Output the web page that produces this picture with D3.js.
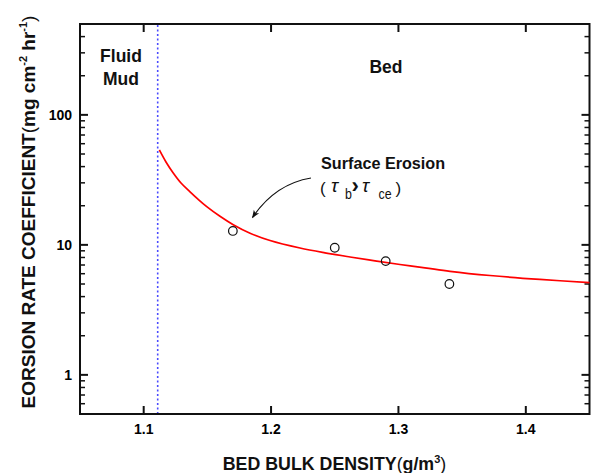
<!DOCTYPE html>
<html>
<head>
<meta charset="utf-8">
<script src="https://cdn.jsdelivr.net/npm/d3@7"></script>
<style>
  html, body { margin: 0; padding: 0; background: #fff; }
  svg { display: block; font-family: "Liberation Sans", Arial, sans-serif; }
</style>
</head>
<body>
<svg id="chart" width="591" height="473"></svg>
<script>
// ---- data ----
const densityTicks = [1.1, 1.2, 1.3, 1.4];
const rateTickLabels = [1, 10, 100];
const fluidMudBoundary = [1.111];

// fitted erosion-rate curve
const curveDensity = [1.1123, 1.1175, 1.1232, 1.1293, 1.1364, 1.1426, 1.1495, 1.1599, 1.1703, 1.1835, 1.1992, 1.2227, 1.2423, 1.262, 1.2816, 1.3012, 1.3208, 1.3405, 1.3719, 1.4111, 1.45];
const curveRate    = [53.7, 43.4, 35.7, 29.9, 25.6, 22.5, 19.7, 16.6, 14.3, 12.3, 10.8, 9.46, 8.69, 8.07, 7.53, 7.06, 6.66, 6.26, 5.81, 5.42, 5.13];

// measured points
const obsDensity = [1.17, 1.25, 1.29, 1.34];
const obsRate    = [12.8, 9.5, 7.5, 5.0];

// ---- layout ----
const svg = d3.select("#chart");
const L = 80, R = 589.5, T = 24, B = 414;

const x = d3.scaleLinear().domain([1.05, 1.45]).range([L, R]);
const y = d3.scaleLog().domain([0.5, 500]).range([B, T]);

const minorTicks = [];
[0.1, 1, 10, 100].forEach(d => { for (let k = 2; k <= 9; k++) { const v = d * k; if (v >= 0.5 && v <= 500 && !(d === 0.1 && k < 5)) minorTicks.push(v); } });

// ticks (inward) all sides
const tickG = svg.append("g").attr("stroke", "#111");
rateTickLabels.forEach(v => {
  tickG.append("line").attr("x1", L).attr("x2", L + 8).attr("y1", y(v)).attr("y2", y(v)).attr("stroke-width", 2);
  tickG.append("line").attr("x1", R).attr("x2", R - 8).attr("y1", y(v)).attr("y2", y(v)).attr("stroke-width", 2);
});
minorTicks.forEach(v => {
  tickG.append("line").attr("x1", L).attr("x2", L + 5).attr("y1", y(v)).attr("y2", y(v)).attr("stroke-width", 1.5);
  tickG.append("line").attr("x1", R).attr("x2", R - 5).attr("y1", y(v)).attr("y2", y(v)).attr("stroke-width", 1.5);
});
densityTicks.forEach(v => {
  tickG.append("line").attr("x1", x(v)).attr("x2", x(v)).attr("y1", B).attr("y2", B - 8).attr("stroke-width", 2);
  tickG.append("line").attr("x1", x(v)).attr("x2", x(v)).attr("y1", T).attr("y2", T + 8).attr("stroke-width", 2);
});

// frame
svg.append("rect").attr("x", L).attr("y", T).attr("width", R - L).attr("height", B - T)
  .attr("fill", "none").attr("stroke", "#111").attr("stroke-width", 2);

// tick labels
svg.append("g").selectAll("text").data(rateTickLabels).join("text")
  .attr("x", 72).attr("y", d => y(d) + 5)
  .attr("text-anchor", "end").attr("font-size", 14).attr("font-weight", "bold")
  .text(d => d);
svg.append("g").selectAll("text").data(densityTicks).join("text")
  .attr("x", d => x(d)).attr("y", 434)
  .attr("text-anchor", "middle").attr("font-size", 14).attr("font-weight", "bold")
  .text(d => d3.format(".1f")(d));

// fluid mud boundary
svg.append("g").selectAll("line").data(fluidMudBoundary).join("line")
  .attr("x1", d => x(d)).attr("x2", d => x(d)).attr("y1", T + 1).attr("y2", B - 1)
  .attr("stroke", "#4a4aff").attr("stroke-width", 1.6).attr("stroke-dasharray", "2,2.5");

// curve
const curvePts = curveDensity.map((d, i) => [d, curveRate[i]]);
svg.append("path").datum(curvePts)
  .attr("d", d3.line().x(d => x(d[0])).y(d => y(d[1])).curve(d3.curveCatmullRom.alpha(0.5)))
  .attr("fill", "none").attr("stroke", "#ff0000").attr("stroke-width", 1.7);

// points
svg.append("g").selectAll("circle").data(obsDensity.map((d, i) => [d, obsRate[i]])).join("circle")
  .attr("cx", d => x(d[0])).attr("cy", d => y(d[1])).attr("r", 4.3)
  .attr("fill", "none").attr("stroke", "#111").attr("stroke-width", 1.2);

// region labels
const lab = svg.append("g").attr("font-weight", "bold").attr("font-size", 17.5).attr("fill", "#111").attr("text-anchor", "middle");
lab.append("text").attr("x", 121).attr("y", 62).text("Fluid");
lab.append("text").attr("x", 121).attr("y", 85).text("Mud");
lab.append("text").attr("x", 386).attr("y", 73).text("Bed");

// annotation
svg.append("text").attr("x", 321).attr("y", 169).attr("font-size", 16.2).attr("font-weight", "bold").attr("fill", "#111")
  .text("Surface Erosion");
const ann = svg.append("g").attr("fill", "#111")
  .attr("font-family", "'Liberation Sans Narrow', 'Liberation Sans', Arial, sans-serif");
ann.append("text").attr("x", 320).attr("y", 194).attr("font-size", 17).text("(");
ann.append("text").attr("x", 331).attr("y", 192).attr("font-size", 19).attr("font-style", "italic").text("τ");
ann.append("text").attr("x", 345).attr("y", 199.5).attr("font-size", 15.5).attr("transform", "translate(345,199.5) scale(0.8,1) translate(-345,-199.5)").text("b");
ann.append("text").attr("x", 351.5).attr("y", 193).attr("font-size", 22).attr("font-weight", "bold").text("›");
ann.append("text").attr("x", 362).attr("y", 192).attr("font-size", 19).attr("font-style", "italic").text("τ");
ann.append("text").attr("x", 378.5).attr("y", 199.5).attr("font-size", 15.5).attr("transform", "translate(378.5,199.5) scale(0.8,1) translate(-378.5,-199.5)").text("ce");
ann.append("text").attr("x", 395.5).attr("y", 194).attr("font-size", 17).text(")");

// arrow
const defs = svg.append("defs");
defs.append("marker").attr("id", "ah").attr("viewBox", "0 0 10 10").attr("refX", 9).attr("refY", 5)
  .attr("markerWidth", 10).attr("markerHeight", 8).attr("markerUnits", "userSpaceOnUse").attr("orient", "auto")
  .append("path").attr("d", "M0,1 L10,5 L0,9 L2.5,5 Z").attr("fill", "#111");
svg.append("path").attr("d", "M311,178 Q275,184 252.5,217.5")
  .attr("fill", "none").attr("stroke", "#111").attr("stroke-width", 1.2).attr("marker-end", "url(#ah)");

// axis titles
const xt = svg.append("text").attr("x", 334.5).attr("y", 470).attr("text-anchor", "middle")
  .attr("font-size", 17.8).attr("font-weight", "bold").attr("fill", "#111");
xt.append("tspan").text("BED BULK DENSITY");
xt.append("tspan").attr("font-weight", "normal").text("(");
xt.append("tspan").text("g/m");
xt.append("tspan").attr("font-size", 11).attr("dy", -7).text("3");
xt.append("tspan").attr("font-weight", "normal").attr("dy", 7).text(")");

const yt = svg.append("text").attr("transform", "translate(35,212) rotate(-90)").attr("text-anchor", "middle")
  .attr("font-size", 19).attr("font-weight", "bold").attr("fill", "#111");
yt.append("tspan").text("EORSION RATE COEFFICIENT");
yt.append("tspan").attr("font-weight", "normal").text("(");
yt.append("tspan").text("mg cm");
yt.append("tspan").attr("font-size", 11).attr("dy", -8).text("-2");
yt.append("tspan").attr("dy", 8).text(" hr");
yt.append("tspan").attr("font-size", 11).attr("dy", -8).text("-1");
yt.append("tspan").attr("font-weight", "normal").attr("dy", 8).text(")");
</script>
</body>
</html>
